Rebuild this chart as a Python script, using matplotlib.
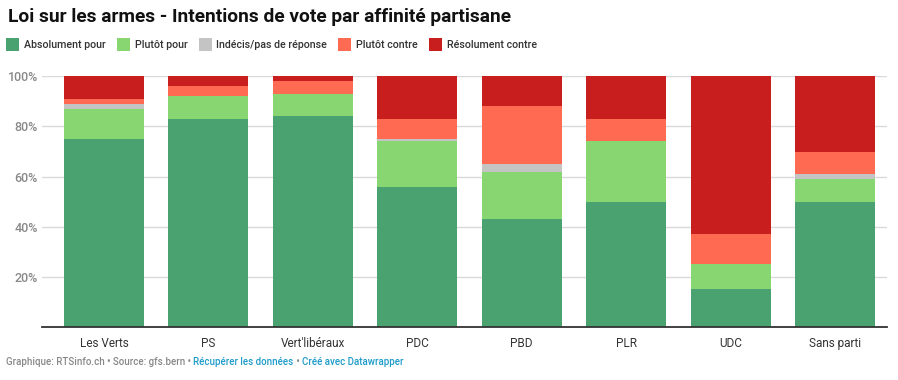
import matplotlib
matplotlib.use("Agg")
import matplotlib.pyplot as plt
from matplotlib.patches import Rectangle
import numpy as np

plt.rcParams['font.family'] = ['Roboto', 'DejaVu Sans']

categories = ["Les Verts", "PS", "Vert'libéraux", "PDC", "PBD", "PLR", "UDC", "Sans parti"]
series_names = ["Absolument pour", "Plutôt pour", "Indécis/pas de réponse", "Plutôt contre", "Résolument contre"]
absolument_pour = [75, 83, 84, 56, 43, 50, 15, 50]
plutot_pour = [12, 9, 9, 18, 19, 24, 10, 9]
indecis = [2, 0, 0, 1, 3, 0, 0, 2]
plutot_contre = [2, 4, 5, 8, 23, 9, 12, 9]
resolument_contre = [9, 4, 2, 17, 12, 17, 63, 30]
colors = ["#4aa271", "#88d672", "#c4c4c4", "#ff6a52", "#c91e1e"]
yticks = [20, 40, 60, 80, 100]
ytick_labels = ["20%", "40%", "60%", "80%", "100%"]

W, H = 898, 380
fig = plt.figure(figsize=(W / 100, H / 100), dpi=100)
fig.patch.set_facecolor("white")
renderer = fig.canvas.get_renderer()

ax_left, ax_right, ax_top, ax_bottom = 42, 887, 76.3, 327
ax = fig.add_axes([ax_left / W, 1 - ax_bottom / H, (ax_right - ax_left) / W, (ax_bottom - ax_top) / H])

x = np.arange(len(categories))
bottom = np.zeros(len(categories))
for vals, col in zip([absolument_pour, plutot_pour, indecis, plutot_contre, resolument_contre], colors):
    v = np.array(vals, dtype=float)
    ax.bar(x, v, bottom=bottom, width=0.766, color=col, linewidth=0, zorder=2)
    bottom += v

ax.set_xlim(-0.594, 7.498)
ax.set_ylim(0, 100)
ax.set_yticks(yticks)
ax.set_yticklabels(ytick_labels)
ax.yaxis.grid(True, color="#d9d9d9", linewidth=1, zorder=0)
ax.set_axisbelow(True)
for s in ["top", "right", "left"]:
    ax.spines[s].set_visible(False)
ax.spines["bottom"].set_color("#333333")
ax.spines["bottom"].set_linewidth(1.3)
ax.spines["bottom"].set_zorder(3)
ax.tick_params(axis="y", length=0, pad=3, labelsize=9, labelcolor="#888888")
for lab in ax.get_yticklabels():
    lab.set_fontweight("medium")
ax.set_xticks(x)
ax.set_xticklabels(categories)
ax.tick_params(axis="x", length=0, pad=7, labelsize=8.5, labelcolor="#333333")

# Title
fig.text(8 / W, 1 - 17 / H, "Loi sur les armes - Intentions de vote par affinité partisane",
         fontsize=13.8, fontweight="bold", color="#111111", va="center", ha="left")


def text_width_px(t):
    bb = t.get_window_extent(renderer=renderer)
    return bb.width


# Legend (chained)
leg_y = 44.5
sq = 13
cur = 6
for name, col in zip(series_names, colors):
    fig.patches.append(Rectangle((cur / W, 1 - (leg_y + sq / 2) / H), sq / W, sq / H,
                                 transform=fig.transFigure, color=col, linewidth=0))
    t = fig.text((cur + sq + 5) / W, 1 - leg_y / H, name, fontsize=7.7, color="#333333",
                 fontweight="medium", va="center", ha="left")
    cur = cur + sq + 5 + text_width_px(t) + 11

# Footer (chained)
fy = 1 - 362 / H
parts = [("Graphique: RTSinfo.ch • Source: gfs.bern • ", "#888888"),
         ("Récupérer les données", "#1d9bc9"),
         (" • ", "#888888"),
         ("Créé avec Datawrapper", "#1d9bc9")]
cur = 6
for txt, col in parts:
    t = fig.text(cur / W, fy, txt, fontsize=7.0, color=col, fontweight="medium",
                 va="center", ha="left")
    cur += text_width_px(t)

fig.savefig("out.png", dpi=100)
